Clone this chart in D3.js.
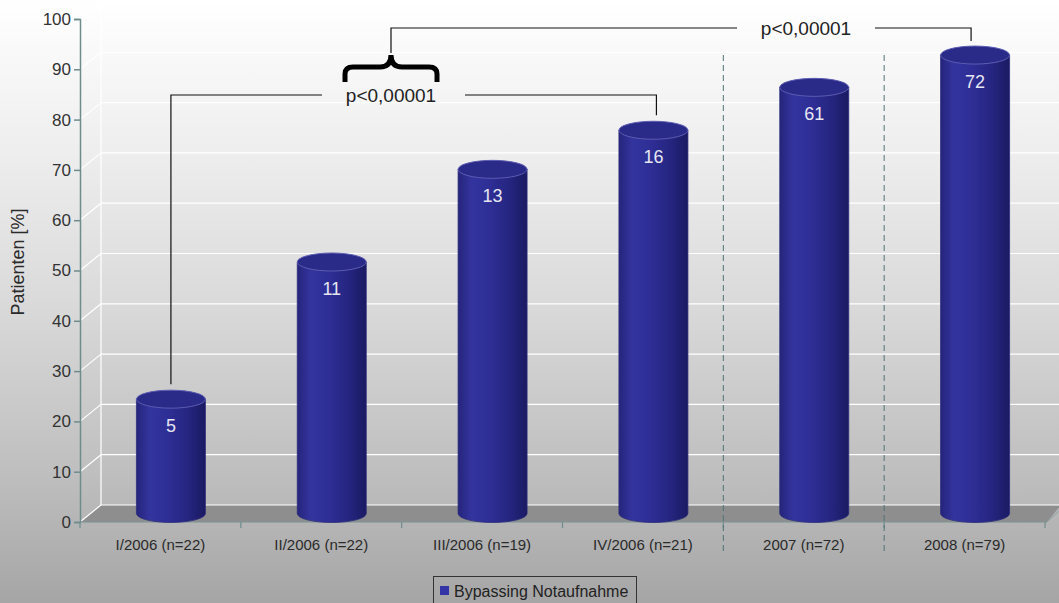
<!DOCTYPE html>
<html>
<head>
<meta charset="utf-8">
<script src="https://cdn.jsdelivr.net/npm/d3@7"></script>
<style>
  html, body { margin: 0; padding: 0; background: #fff; }
  svg { display: block; }
  text { font-family: "Liberation Sans", Arial, sans-serif; }
</style>
</head>
<body>
<svg id="chart" width="1059" height="603"></svg>
<script>
// Quarters / years with patient counts
const categories = ["I/2006 (n=22)", "II/2006 (n=22)", "III/2006 (n=19)", "IV/2006 (n=21)", "2007 (n=72)", "2008 (n=79)"];
const totals = [22, 22, 19, 21, 72, 79];
const bypassCounts = [5, 11, 13, 16, 61, 72];
const yTicks = [0, 10, 20, 30, 40, 50, 60, 70, 80, 90, 100];
const seriesName = "Bypassing Notaufnahme";
const pLabel = "p<0,00001";

const percents = bypassCounts.map((c, i) => c / totals[i] * 100);

const W = 1059, H = 603;
const svg = d3.select("#chart");
const defs = svg.append("defs");

// Backdrop gradient
const bg = defs.append("linearGradient").attr("id", "bg").attr("x1", 0).attr("y1", 0).attr("x2", 0).attr("y2", 1);
[[0, "#ffffff"], [0.25, "#eeeeee"], [0.5, "#dadada"], [0.8, "#bdbdbd"], [1, "#a5a5a5"]]
  .forEach(([o, c]) => bg.append("stop").attr("offset", o).attr("stop-color", c));
svg.append("rect").attr("width", W).attr("height", H).attr("fill", "url(#bg)");

// Cylinder shading
const cyl = defs.append("linearGradient").attr("id", "cyl").attr("x1", 0).attr("y1", 0).attr("x2", 1).attr("y2", 0);
[[0, "#25257c"], [0.2, "#34349f"], [0.45, "#2e2e96"], [0.75, "#252580"], [1, "#1a1a62"]]
  .forEach(([o, c]) => cyl.append("stop").attr("offset", o).attr("stop-color", c));

// Scales
const x = d3.scaleBand().domain(categories).range([80, 1045]).padding(0);
const y = d3.scaleLinear().domain([0, 100]).range([522, 19]);
const depthX = 21, depthY = -17;

// Floor
svg.append("polygon")
  .attr("points", [[80, y(0)], [80 + depthX, y(0) + depthY], [W + 2, y(0) + depthY], [1047, y(0)]].map(p => p.join(",")).join(" "))
  .attr("fill", "#8e8e8e");

// Back wall gridlines and side-wall diagonals
const grid = svg.append("g").attr("stroke", "#ffffff").attr("stroke-width", 1.2).attr("fill", "none");
yTicks.forEach(t => {
  grid.append("line").attr("x1", 80 + depthX).attr("x2", W).attr("y1", y(t) + depthY).attr("y2", y(t) + depthY);
  grid.append("line").attr("x1", 80).attr("y1", y(t)).attr("x2", 80 + depthX).attr("y2", y(t) + depthY);
});
grid.append("line").attr("x1", 80 + depthX).attr("x2", 80 + depthX).attr("y1", 0).attr("y2", y(0) + depthY);

// Floor right edge
svg.append("line").attr("x1", 1047).attr("y1", y(0)).attr("x2", 1059).attr("y2", y(0) - 11)
  .attr("stroke", "#8aa0a0").attr("stroke-width", 1);

// Axes
const axisColor = "#6f8c8c";
const yAxis = svg.append("g").attr("transform", "translate(80,0)")
  .call(d3.axisLeft(y).tickValues(yTicks).tickSize(6).tickPadding(3));
yAxis.select(".domain").attr("stroke", axisColor).attr("stroke-width", 1.5);
yAxis.selectAll(".tick line").attr("stroke", axisColor).attr("stroke-width", 1.5);
yAxis.selectAll(".tick text").attr("font-size", 17).attr("fill", "#333").attr("font-family", "Liberation Sans, Arial, sans-serif");

const xAxis = svg.append("g").attr("transform", `translate(0,${y(0)})`)
  .call(d3.axisBottom(x).tickSize(0).tickPadding(17));
xAxis.select(".domain").attr("d", `M80,0H1047`).attr("stroke", "#7d9494").attr("stroke-width", 1.2);
xAxis.selectAll(".tick text").attr("font-size", 15).attr("fill", "#2a2a2a").attr("font-family", "Liberation Sans, Arial, sans-serif");
// category boundary ticks
const bounds = categories.map(c => x(c)).concat([x(categories[categories.length - 1]) + x.bandwidth()]);
svg.append("g").selectAll("line").data(bounds).join("line")
  .attr("x1", d => d).attr("x2", d => d).attr("y1", y(0)).attr("y2", y(0) + 6)
  .attr("stroke", axisColor).attr("stroke-width", 1.2);

// Year separators
svg.append("g").selectAll("line").data([x(categories[4]), x(categories[5])]).join("line")
  .attr("x1", d => d).attr("x2", d => d).attr("y1", 55).attr("y2", 553)
  .attr("stroke", "#4f7474").attr("stroke-width", 1).attr("stroke-dasharray", "6,4");

// Y-axis title
svg.append("text").attr("transform", "translate(24,262) rotate(-90)")
  .attr("text-anchor", "middle").attr("font-size", 18).attr("fill", "#2a2a2a")
  .text("Patienten [%]");

// Cylinders
const rx = 34.5, ry = 9;
const cx = i => x(categories[i]) + x.bandwidth() / 2 + depthX / 2;
const bars = svg.append("g");
percents.forEach((p, i) => {
  const c = cx(i);
  const yTop = y(p) + depthY / 2;
  const yBot = y(0) + depthY / 2;
  bars.append("path")
    .attr("d", `M${c - rx},${yTop} L${c - rx},${yBot} A${rx},${ry} 0 0 0 ${c + rx},${yBot} L${c + rx},${yTop} Z`)
    .attr("fill", "url(#cyl)").attr("stroke", "#2c2c7c").attr("stroke-width", 0.8);
  bars.append("ellipse").attr("cx", c).attr("cy", yTop).attr("rx", rx).attr("ry", ry)
    .attr("fill", "#2a2a88").attr("stroke", "#5c5cb2").attr("stroke-width", 1);
  bars.append("text").attr("x", c).attr("y", yTop + 33)
    .attr("text-anchor", "middle").attr("font-size", 18).attr("fill", "#e6e6f2")
    .text(bypassCounts[i]);
});

// Significance brackets
const ann = svg.append("g").attr("fill", "none").attr("stroke", "#111").attr("stroke-width", 1.2);
const c0 = cx(0), c3 = cx(3) + 3, c5 = cx(5) - 4;
const lowY = 95, highY = 28;
const braceMid = 391;
ann.append("path").attr("d", `M${c0},${y(percents[0]) + depthY / 2 - ry - 6} V${lowY} H322`);
ann.append("path").attr("d", `M465,${lowY} H${c3} V${y(percents[3]) + depthY / 2 - ry - 6}`);
ann.append("path").attr("d", `M${braceMid},53 V${highY} H737`);
ann.append("path").attr("d", `M875,${highY} H${c5} V${y(percents[5]) + depthY / 2 - ry - 5}`);

// Curly brace grouping the 2006 quarters
svg.append("path")
  .attr("d", "M345,82 V74 Q345,67 353,67 H380 Q391,67 391,55 Q391,67 402,67 H429 Q437,67 437,74 V82")
  .attr("fill", "none").attr("stroke", "#000").attr("stroke-width", 5);

svg.append("text").attr("x", braceMid).attr("y", lowY + 7).attr("text-anchor", "middle")
  .attr("font-size", 19).attr("fill", "#222").text(pLabel);
svg.append("text").attr("x", 806).attr("y", highY + 7).attr("text-anchor", "middle")
  .attr("font-size", 19).attr("fill", "#222").text(pLabel);

// Legend
const lg = svg.append("g");
lg.append("rect").attr("x", 433.5).attr("y", 576.5).attr("width", 203).attr("height", 30)
  .attr("fill", "none").attr("stroke", "#333").attr("stroke-width", 1);
lg.append("rect").attr("x", 440).attr("y", 586).attr("width", 9).attr("height", 9).attr("fill", "#3434a6");
lg.append("text").attr("x", 454).attr("y", 597).attr("font-size", 16).attr("fill", "#222").text(seriesName);
</script>
</body>
</html>
